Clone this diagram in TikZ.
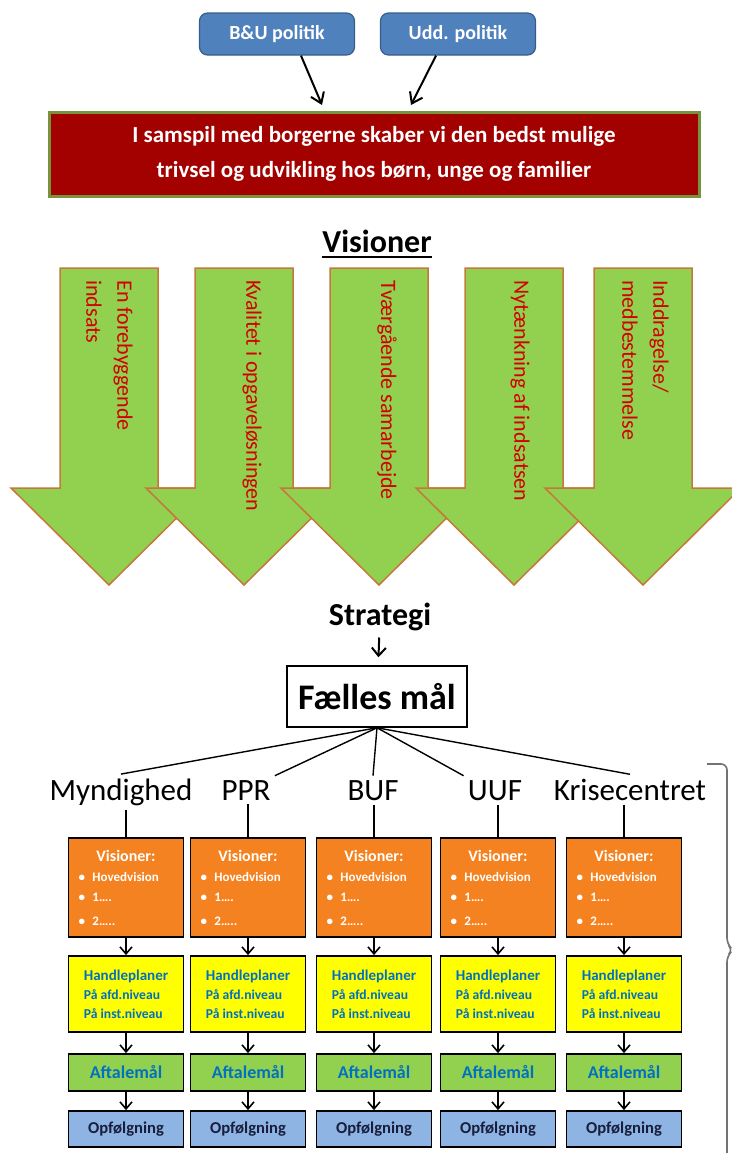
\documentclass[tikz,border=0pt]{standalone}
\usepackage{fontspec}
\setmainfont{Carlito}
\usepackage{tikz}
\definecolor{polBlue}{RGB}{79,129,189}
\definecolor{polEdge}{RGB}{56,93,138}
\definecolor{missionRed}{RGB}{163,0,0}
\definecolor{missionEdge}{RGB}{119,147,60}
\definecolor{visGreen}{RGB}{146,208,80}
\definecolor{visEdge}{RGB}{196,120,60}
\definecolor{visText}{RGB}{210,0,0}
\definecolor{planOrange}{RGB}{245,130,32}
\definecolor{planYellow}{RGB}{255,255,0}
\definecolor{planText}{RGB}{0,112,192}
\definecolor{planBlue}{RGB}{141,180,226}
\definecolor{followText}{RGB}{25,30,60}
\usetikzlibrary{arrows.meta, positioning, calc}

\begin{document}
\begin{tikzpicture}[x=0.5pt, y=-0.5pt,
    polbox/.style={draw=polEdge, line width=0.6pt, fill=polBlue, rounded corners=4pt, text=white,
      font=\bfseries\fontsize{10}{12}\selectfont, minimum width=77.5pt, minimum height=21pt},
    mission/.style={draw=missionEdge, line width=1.5pt, fill=missionRed, text=white, align=center,
      font=\bfseries\fontsize{11.5}{17.5}\selectfont, minimum width=325pt, minimum height=42pt},
    visarrow/.style={draw=visEdge, line width=0.75pt, fill=visGreen},
    vistext/.style={rotate=-90, anchor=north west, align=left, inner sep=0pt, text=visText,
      font=\fontsize{11}{15.5}\selectfont},
    toparrow/.style={line width=1pt, -{Straight Barb[length=5pt,width=7pt]}},
    steparrow/.style={line width=0.8pt, -{Straight Barb[length=3.5pt,width=6pt]}},
    plain/.style={line width=0.7pt},
    unitlabel/.style={anchor=base, inner sep=2pt, font=\fontsize{15.5}{18}\selectfont},
    visbox/.style={draw, line width=0.9pt, fill=planOrange, text=white, text width=47.5pt, inner xsep=5pt,
      minimum height=49.5pt, font=\bfseries},
    planbox/.style={draw, line width=0.9pt, fill=planYellow, text=planText, align=left,
      minimum width=57.5pt, minimum height=38pt, font=\bfseries\fontsize{6.8}{9.5}\selectfont},
    goalbox/.style={draw, line width=0.9pt, fill=visGreen, text=planText, minimum width=57.5pt,
      minimum height=18.5pt, font=\bfseries\fontsize{9}{11}\selectfont},
    followbox/.style={draw, line width=0.9pt, fill=planBlue, text=followText, minimum width=57.5pt,
      minimum height=18pt, font=\bfseries\fontsize{8.3}{10}\selectfont}]
  \useasboundingbox (0,0) rectangle (732,1153);

  \node[polbox] (bu) at (277,34) {B\&U politik};
  \node[polbox] (udd) at (458,34) {Udd. politik};
  \node[mission] (mission) at (374,154) {I samspil med borgerne skaber vi den bedst mulige\\trivsel og udvikling hos børn, unge og familier};
  \coordinate (buEnd) at (322,105);
  \coordinate (uddEnd) at (411,105);
  \draw[toparrow] ($(bu.south)+(24,0)$) -- (buEnd);
  \draw[toparrow] ($(udd.south)+(-22,0)$) -- (uddEnd);

  \node[anchor=base, inner sep=0pt, font=\bfseries\fontsize{16}{18}\selectfont] (vision) at (377,252) {Visioner};
  \draw[line width=1pt] ($(vision.base west)+(0,5)$) -- ($(vision.base east)+(0,5)$);

  \foreach \c in {109,244,379,514,643}
    \draw[visarrow] (\c-49,268) -- (\c+49,268) -- (\c+49,488) -- (\c+98,488) -- (\c,585)
      -- (\c-98,488) -- (\c-49,488) -- cycle;
  \node[vistext] (vt1) at (133,280) {En forebyggende\\indsats};
  \node[vistext] (vt2) at (262,280) {Kvalitet i opgaveløsningen};
  \node[vistext] (vt3) at (397,280) {Tværgående samarbejde};
  \node[vistext] (vt4) at (530,280) {Nytænkning af indsatsen};
  \node[vistext] (vt5) at (669,280) {Inddragelse/\\medbestemmelse};

  \node[anchor=base, font=\bfseries\fontsize{16}{18}\selectfont] (strat) at (380,625) {Strategi};
  \node[draw, line width=0.75pt, inner xsep=5.5pt, minimum height=30.5pt,
    font=\bfseries\fontsize{18}{20}\selectfont] (faelles) at (377,696.5) {Fælles mål};
  \draw[line width=1pt, -{Straight Barb[length=4pt,width=7pt]}, shorten >=4pt] (strat) -- (faelles);

  \foreach \x/\lx/\lab [count=\i] in {126/121/Myndighed, 248/246/PPR, 374/373/BUF, 498/495/UUF, 624/630/Krisecentret}{
    \node[unitlabel] (u\i) at (\lx,800) {\lab};
    \node[visbox] (o\i) at (\x,887.5) {{\centering\fontsize{8}{10}\selectfont Visioner:\par}
      \fontsize{6.5}{10}\selectfont\noindent\makebox[7pt][l]{\textbullet}Hovedvision\\
      \makebox[7pt][l]{\textbullet}1….\\
      \makebox[7pt][l]{\textbullet}2…..};
    \node[planbox] (h\i) at (\x,994) {{\fontsize{7.5}{10}\selectfont Handleplaner}\\
      På afd.niveau\\På inst.niveau};
    \node[goalbox] (a\i) at (\x,1072.5) {Aftalemål};
    \node[followbox] (f\i) at (\x,1129) {Opfølgning};
    \draw[plain] (u\i.south -| o\i.north) -- (o\i.north);
    \draw[steparrow] (o\i) -- (h\i);
    \draw[steparrow] (h\i) -- (a\i);
    \draw[steparrow] (a\i) -- (f\i);
  }

  \draw[plain] (faelles.south) -- (u1.north);
  \draw[plain] (faelles.south) -- (u2.north east);
  \draw[plain] (faelles.south) -- (u3.north);
  \draw[plain] (faelles.south) -- (u4.north west);
  \draw[plain] (faelles.south) -- (u5.north);

  \draw[line width=0.8pt, black!55, rounded corners=3pt] (707,764) -- (727,764) -- (727,944)
    -- (733,950) -- (727,956) -- (727,1160);
\end{tikzpicture}
\end{document}
